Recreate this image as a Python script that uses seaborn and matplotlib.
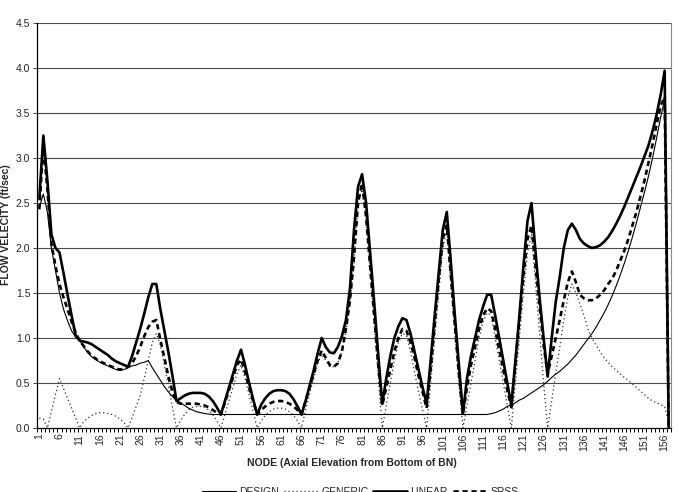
import numpy as np
import pandas as pd
import matplotlib
matplotlib.use("Agg")
import matplotlib.pyplot as plt
import seaborn as sns

nodes = list(range(1, 158))

linear = [2.55, 3.25, 2.75, 2.15, 2.0, 1.95, 1.72, 1.48, 1.25, 1.03,
          0.97, 0.96, 0.95, 0.93, 0.9, 0.87, 0.84, 0.81, 0.77, 0.74,
          0.72, 0.7, 0.68, 0.8, 0.95, 1.1, 1.27, 1.45, 1.6, 1.6,
          1.32, 1.08, 0.84, 0.58, 0.3, 0.33, 0.36, 0.38, 0.39, 0.39,
          0.39, 0.38, 0.35, 0.3, 0.23, 0.15, 0.3, 0.45, 0.6, 0.75,
          0.87, 0.7, 0.5, 0.32, 0.15, 0.26, 0.33, 0.38, 0.41, 0.42,
          0.42, 0.41, 0.38, 0.32, 0.24, 0.15, 0.3, 0.47, 0.64, 0.83,
          1.0, 0.9, 0.84, 0.83, 0.9, 1.02, 1.2, 1.55, 2.2, 2.68,
          2.82, 2.5, 1.95, 1.4, 0.82, 0.27, 0.55, 0.8, 1.0, 1.13,
          1.22, 1.2, 1.05, 0.85, 0.65, 0.45, 0.27, 0.75, 1.25, 1.72,
          2.2, 2.4, 1.85, 1.25, 0.7, 0.16, 0.55, 0.8, 1.0, 1.2,
          1.35, 1.48, 1.48, 1.25, 1.0, 0.75, 0.5, 0.25, 0.75, 1.25,
          1.8, 2.3, 2.5, 1.95, 1.45, 1.0, 0.57, 1.0, 1.4, 1.68,
          2.0, 2.2, 2.27, 2.2, 2.1, 2.05, 2.02, 2.0, 2.01, 2.03,
          2.07, 2.12, 2.19, 2.27, 2.36, 2.46, 2.57, 2.68, 2.79, 2.9,
          3.02, 3.14, 3.3, 3.48, 3.7, 3.97, 0.0]

srss = [2.43, 3.15, 2.65, 2.05, 1.8, 1.6, 1.45, 1.32, 1.18, 1.06,
        0.97, 0.91, 0.85, 0.8, 0.77, 0.74, 0.72, 0.7, 0.68, 0.66,
        0.65, 0.66, 0.68, 0.72, 0.8, 0.9, 1.02, 1.12, 1.18, 1.2,
        0.98, 0.78, 0.57, 0.4, 0.29, 0.27, 0.27, 0.27, 0.27, 0.27,
        0.26, 0.25, 0.23, 0.2, 0.17, 0.15, 0.28, 0.42, 0.56, 0.7,
        0.76, 0.62, 0.45, 0.3, 0.15, 0.2, 0.24, 0.27, 0.29, 0.3,
        0.3, 0.29, 0.27, 0.24, 0.2, 0.15, 0.3, 0.45, 0.6, 0.75,
        0.86, 0.78, 0.7, 0.68, 0.72, 0.85, 1.1, 1.42, 1.9, 2.5,
        2.72, 2.35, 1.8, 1.25, 0.7, 0.25, 0.45, 0.65, 0.85, 1.0,
        1.1, 1.08, 0.95, 0.78, 0.58, 0.4, 0.22, 0.65, 1.15, 1.65,
        2.1, 2.25, 1.7, 1.15, 0.6, 0.15, 0.45, 0.7, 0.9, 1.1,
        1.25, 1.33, 1.3, 1.1, 0.87, 0.65, 0.42, 0.23, 0.7, 1.2,
        1.7, 2.1, 2.25, 1.8, 1.35, 0.92, 0.6, 0.8, 1.0, 1.2,
        1.42, 1.62, 1.74, 1.62, 1.48, 1.44, 1.42, 1.42, 1.44, 1.48,
        1.53, 1.6, 1.66, 1.75, 1.86, 1.97, 2.1, 2.25, 2.4, 2.57,
        2.75, 2.95, 3.15, 3.37, 3.58, 3.68, 0.0]

design = [2.45, 2.6, 2.4, 2.0, 1.75, 1.5, 1.32, 1.19, 1.08, 1.01,
          0.97, 0.9, 0.84, 0.79, 0.76, 0.73, 0.71, 0.69, 0.67, 0.65,
          0.64, 0.65, 0.67, 0.69, 0.7, 0.72, 0.73, 0.75, 0.67, 0.6,
          0.53, 0.46, 0.4, 0.35, 0.31, 0.28, 0.25, 0.22, 0.2, 0.18,
          0.17, 0.16, 0.155, 0.15, 0.15, 0.15, 0.15, 0.15, 0.15, 0.15,
          0.15, 0.15, 0.15, 0.15, 0.15, 0.15, 0.15, 0.15, 0.15, 0.15,
          0.15, 0.15, 0.15, 0.15, 0.15, 0.15, 0.15, 0.15, 0.15, 0.15,
          0.15, 0.15, 0.15, 0.15, 0.15, 0.15, 0.15, 0.15, 0.15, 0.15,
          0.15, 0.15, 0.15, 0.15, 0.15, 0.15, 0.15, 0.15, 0.15, 0.15,
          0.15, 0.15, 0.15, 0.15, 0.15, 0.15, 0.15, 0.15, 0.15, 0.15,
          0.15, 0.15, 0.15, 0.15, 0.15, 0.15, 0.15, 0.15, 0.15, 0.15,
          0.15, 0.15, 0.16, 0.17, 0.19, 0.21, 0.24, 0.26, 0.28, 0.31,
          0.33, 0.36, 0.39, 0.42, 0.45, 0.48, 0.52, 0.56, 0.6, 0.63,
          0.67, 0.71, 0.76, 0.81, 0.87, 0.93, 0.99, 1.05, 1.12, 1.2,
          1.28, 1.37, 1.47, 1.58, 1.7, 1.83, 1.97, 2.12, 2.28, 2.45,
          2.62, 2.8, 3.0, 3.22, 3.45, 3.65, 0.0]

generic = [0.11, 0.1, 0.0, 0.18, 0.37, 0.55, 0.44, 0.33, 0.22, 0.11,
           0.0, 0.07, 0.11, 0.14, 0.16, 0.17, 0.17, 0.16, 0.15, 0.13,
           0.1, 0.06, 0.0, 0.12, 0.24, 0.36, 0.55, 0.75, 0.95, 1.05,
           0.92, 0.7, 0.47, 0.23, 0.0, 0.08, 0.15, 0.2, 0.23, 0.24,
           0.24, 0.23, 0.2, 0.15, 0.08, 0.0, 0.15, 0.3, 0.45, 0.6,
           0.7, 0.55, 0.37, 0.18, 0.0, 0.08, 0.14, 0.18, 0.21, 0.22,
           0.22, 0.21, 0.18, 0.14, 0.08, 0.0, 0.2, 0.38, 0.55, 0.72,
           0.82, 0.75, 0.68, 0.68, 0.72, 0.85, 1.08, 1.38, 1.82, 2.5,
           2.65, 2.3, 1.75, 1.17, 0.58, 0.0, 0.25, 0.5, 0.75, 0.95,
           1.05, 1.03, 0.85, 0.62, 0.4, 0.2, 0.0, 0.5, 1.0, 1.5,
           2.0, 2.2, 1.6, 1.05, 0.5, 0.0, 0.25, 0.5, 0.75, 1.0,
           1.18, 1.28, 1.25, 1.0, 0.75, 0.5, 0.25, 0.0, 0.5, 1.0,
           1.5, 1.95, 2.15, 1.6, 1.05, 0.5, 0.0, 0.3, 0.6, 0.9,
           1.2, 1.45, 1.6, 1.5, 1.38, 1.25, 1.1, 1.0, 0.92, 0.85,
           0.78, 0.73, 0.68, 0.64, 0.6, 0.56, 0.53, 0.49, 0.45, 0.41,
           0.37, 0.33, 0.3, 0.28, 0.26, 0.24, 0.05]

series_names = ["DESIGN", "GENERIC", "LINEAR", "SRSS"]
tick_nodes = list(range(1, 158, 5))
y_ticks = [0.0, 0.5, 1.0, 1.5, 2.0, 2.5, 3.0, 3.5, 4.0, 4.5]

df = pd.concat([
    pd.DataFrame({"node": nodes, "velocity": design, "series": "DESIGN"}),
    pd.DataFrame({"node": nodes, "velocity": generic, "series": "GENERIC"}),
    pd.DataFrame({"node": nodes, "velocity": linear, "series": "LINEAR"}),
    pd.DataFrame({"node": nodes, "velocity": srss, "series": "SRSS"}),
], ignore_index=True)

sns.set_style("white")
plt.rcParams["font.family"] = ["Liberation Sans", "DejaVu Sans"]

W, H = 678, 492
fig = plt.figure(figsize=(W / 100, H / 100), dpi=100)
x0, x1, ytop, ybot = 37.3, 670.7, 23.0, 428.0
ax = fig.add_axes([x0 / W, 1 - ybot / H, (x1 - x0) / W, (ybot - ytop) / H])

styles = {
    "GENERIC": dict(color="#303030", linewidth=0.9, linestyle=(0, (1, 2.2))),
    "DESIGN": dict(color="black", linewidth=0.8, linestyle="-"),
    "SRSS": dict(color="black", linewidth=1.9, linestyle=(0, (2.0, 1.4))),
    "LINEAR": dict(color="black", linewidth=1.9, linestyle="-"),
}
handles = {}
for name in ["GENERIC", "DESIGN", "SRSS", "LINEAR"]:
    sub = df[df["series"] == name]
    sns.lineplot(data=sub, x="node", y="velocity", ax=ax, label=name,
                 legend=False, **styles[name])
    handles[name] = ax.get_lines()[-1]

ax.set_xlim(0.5, 157.5)
ax.set_ylim(0, 4.5)
ax.set_yticks(y_ticks)
ax.set_yticklabels([f"{v:.1f}" for v in y_ticks])
ax.set_xticks(tick_nodes)
ax.set_xticklabels([str(n) for n in tick_nodes], rotation=90)
ax.set_xticks(np.arange(0.5, 158, 1.0), minor=True)
ax.tick_params(axis="x", which="major", length=0, pad=4, labelsize=7.5)
ax.tick_params(axis="x", which="minor", length=3, width=0.7, direction="out", color="black")
ax.tick_params(axis="y", which="major", length=3, width=0.7, direction="out", labelsize=7.5, pad=2, color="#404040")
ax.xaxis.set_ticks_position("bottom")
ax.yaxis.set_ticks_position("left")
for v in y_ticks[1:]:
    ax.axhline(v, color="#4a4a4a", linewidth=0.8, zorder=0)
ax.set_xlabel("")
ax.set_ylabel("")
ax.spines["left"].set_color("black")
ax.spines["left"].set_linewidth(0.9)
ax.spines["bottom"].set_color("black")
ax.spines["bottom"].set_linewidth(0.9)
ax.spines["right"].set_color("#8a8a8a")
ax.spines["right"].set_linewidth(0.8)
ax.spines["top"].set_visible(False)

fig.text(6 / W, 1 - 225 / H, "FLOW VELECITY (ft/sec)", rotation=90,
         ha="center", va="center", fontsize=7.5, fontweight="bold")
fig.text(352 / W, 1 - 463 / H, "NODE (Axial Elevation from Bottom of BN)",
         ha="center", va="center", fontsize=7.5, fontweight="bold")

order = series_names
fig.legend([handles[n] for n in order], order, loc="upper center",
           bbox_to_anchor=(360 / W, 1 - 487 / H), ncol=4, frameon=False,
           fontsize=7.5, handlelength=3.3, handletextpad=0.3,
           columnspacing=0.45, borderpad=0, borderaxespad=0)

fig.savefig("out.png", dpi=100)
